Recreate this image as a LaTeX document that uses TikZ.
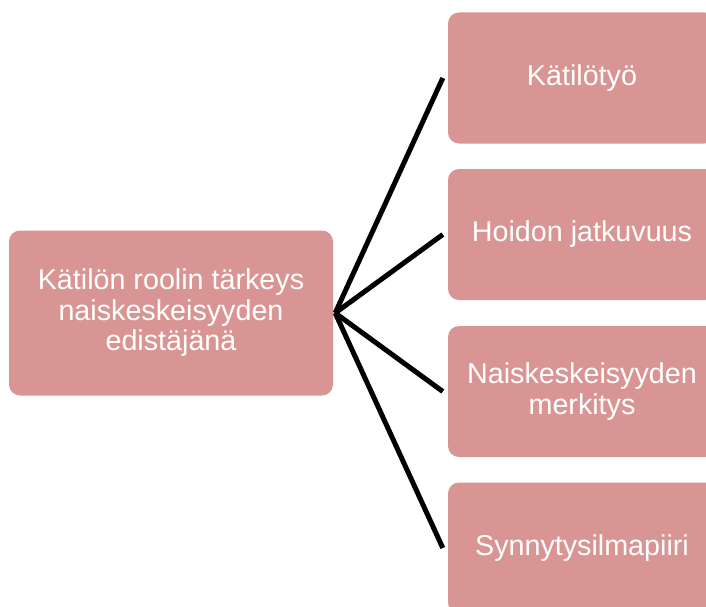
\documentclass[tikz,border=0pt]{standalone}
\usepackage{fontspec}
\setmainfont{Liberation Sans}
\definecolor{boxfill}{HTML}{D99594}
\begin{document}
\begin{tikzpicture}[x=1pt,y=-1pt,
  box/.style={fill=boxfill, rounded corners=11pt, text=white, align=center,
    font=\fontsize{28.7}{30.5}\selectfont, inner sep=0pt},
  rootbox/.style={box, minimum width=324pt, minimum height=165pt},
  leafbox/.style={box, minimum width=268pt, minimum height=131pt},
  link/.style={line width=5pt, black}]
\useasboundingbox (0,0) rectangle (706,607);
\clip (0,0) rectangle (706,607);
\node[rootbox] (root) at (171,313) {Kätilön roolin tärkeys\\naiskeskeisyyden\\edistäjänä};
\node[leafbox] (k1) at (582,78) {Kätilötyö};
\node[leafbox] (k2) at (582,234.5) {Hoidon jatkuvuus};
\node[leafbox] (k3) at (582,391.5) {Naiskeskeisyyden\\merkitys};
\node[leafbox] (k4) at (582,548) {Synnytysilmapiiri};
\coordinate (hub) at ([xshift=2pt]root.east);
\foreach \i in {1,2,3,4}{
  \coordinate (e\i) at ([xshift=-5pt]k\i.west);
  \draw[link] (hub) -- (e\i);
}
\end{tikzpicture}
\end{document}
